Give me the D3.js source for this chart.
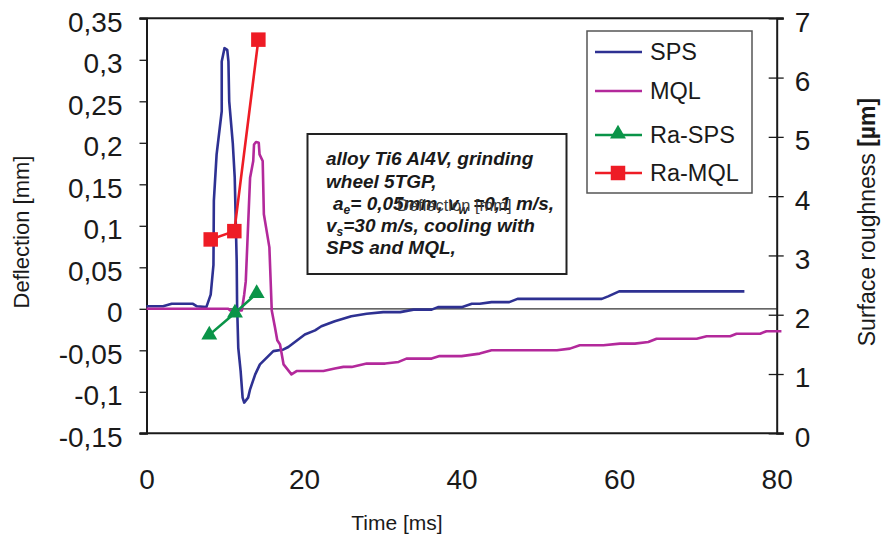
<!DOCTYPE html>
<html><head><meta charset="utf-8">
<script src="https://cdn.jsdelivr.net/npm/d3@7"></script>
<style>
body{margin:0;background:#fff;}
svg{display:block;font-family:"Liberation Sans",Arial,sans-serif;}
</style></head>
<body>
<svg id="c" width="882" height="542"></svg>
<script>
// ---- data ----
const spsTime = [0,2.1,3.2,5.9,6.4,7.6,8.15,8.5,8.55,8.9,9.55,9.55,9.9,10.25,10.4,10.5,10.95,11.2,11.45,11.5,11.65,11.95,12.2,12.4,12.9,13.15,13.8,14.4,16.1,17.4,18.0,20.1,21.4,22.2,23.9,26.0,27.95,30.05,32.2,33.9,36.2,37.0,40.0,41.3,42.3,43.8,46.05,47.1,55,57.8,58.6,60.0,75.9];
const spsDefl = [0.003,0.003,0.006,0.006,0.003,0.002,0.017,0.053,0.13,0.186,0.238,0.298,0.314,0.312,0.298,0.25,0.20,0.158,0.057,0.005,-0.047,-0.075,-0.107,-0.113,-0.107,-0.097,-0.079,-0.067,-0.051,-0.049,-0.046,-0.031,-0.026,-0.021,-0.015,-0.009,-0.006,-0.004,-0.004,-0.001,-0.001,0.002,0.002,0.006,0.006,0.008,0.008,0.012,0.012,0.012,0.015,0.021,0.021];
const mqlTime = [0,10.4,10.6,12.1,12.4,12.6,12.8,13.15,13.55,13.65,13.9,14.25,14.35,14.75,14.9,15.6,15.9,16.3,16.6,16.95,17.4,18.4,19.05,22.45,23.9,25.0,26.05,27.95,30.3,32.0,33.0,36.2,37.2,40.0,42.3,43.8,52.1,53.75,55,58,60.1,62,63.7,64.75,69.85,71.1,74.1,74.9,77.9,78.7,80.6];
const mqlDefl = [0,0,-0.002,-0.002,0.017,0.033,0.078,0.158,0.178,0.198,0.201,0.2,0.186,0.178,0.114,0.074,-0.002,-0.022,-0.038,-0.043,-0.067,-0.079,-0.075,-0.075,-0.072,-0.070,-0.070,-0.066,-0.066,-0.064,-0.060,-0.060,-0.057,-0.057,-0.054,-0.050,-0.050,-0.048,-0.044,-0.044,-0.042,-0.042,-0.040,-0.036,-0.036,-0.033,-0.033,-0.030,-0.030,-0.027,-0.027];
const raSpsTime = [7.97,11.23,13.99];
const raSps = [1.66,2.03,2.36];
const raMqlTime = [8.15,11.15,14.2];
const raMql = [3.27,3.41,6.64];
const leftTicks = [-0.15,-0.1,-0.05,0,0.05,0.1,0.15,0.2,0.25,0.3,0.35];
const leftLabels = ["-0,15","-0,1","-0,05","0","0,05","0,1","0,15","0,2","0,25","0,3","0,35"];
const rightTicks = [0,1,2,3,4,5,6,7];
const xTicks = [0,20,40,60,80];
const seriesNames = ["SPS","MQL","Ra-SPS","Ra-MQL"];
const seriesColors = ["#2e3192","#b3299b","#0a9448","#ee1c25"];
const noteLines = ["alloy Ti6 Al4V, grinding","wheel 5TGP,"];

// ---- layout ----
const svg = d3.select("#c");
const L = 146.5, R = 776.7, T = 18.3, B = 433.3;
const x = d3.scaleLinear().domain([0,80]).range([L,R]);
const yL = d3.scaleLinear().domain([-0.15,0.35]).range([B,T]);
const yR = d3.scaleLinear().domain([0,7]).range([B,T]);
const ink = "#1a1a1a";

// zero line
svg.append("line").attr("x1",L).attr("x2",R).attr("y1",yL(0)).attr("y2",yL(0))
  .attr("stroke","#333").attr("stroke-width",1.2);

// frame top & bottom
svg.append("line").attr("x1",L-7).attr("x2",R+7).attr("y1",T).attr("y2",T).attr("stroke",ink).attr("stroke-width",2);
svg.append("line").attr("x1",L-7).attr("x2",R+7).attr("y1",B).attr("y2",B).attr("stroke",ink).attr("stroke-width",2);

// left axis
const ax = svg.append("g").attr("transform",`translate(${L},0)`)
  .call(d3.axisLeft(yL).tickValues(leftTicks).tickFormat((d,i)=>leftLabels[i]).tickSize(7).tickPadding(17));
ax.select(".domain").attr("stroke",ink).attr("stroke-width",2);
ax.selectAll(".tick line").attr("stroke",ink).attr("stroke-width",1.3);
ax.selectAll("text").attr("font-size",28).attr("fill",ink).attr("dy","0.46em").attr("font-family","Liberation Sans, Arial, sans-serif");

// right axis
const ar = svg.append("g").attr("transform",`translate(${R},0)`)
  .call(d3.axisRight(yR).tickValues(rightTicks).tickFormat(d3.format("d")).tickSize(7).tickPadding(11));
ar.select(".domain").attr("stroke",ink).attr("stroke-width",2);
ar.selectAll(".tick line").attr("stroke",ink).attr("stroke-width",1.3).attr("x1",-8);
ar.selectAll("text").attr("font-size",28).attr("fill",ink).attr("dy","0.46em").attr("font-family","Liberation Sans, Arial, sans-serif");

// bottom axis labels
const axb = svg.append("g").attr("transform",`translate(0,${B})`)
  .call(d3.axisBottom(x).tickValues(xTicks).tickSize(0).tickPadding(36));
axb.select(".domain").remove();
axb.selectAll("text").attr("font-size",28).attr("fill",ink).attr("font-family","Liberation Sans, Arial, sans-serif");

// axis titles
svg.append("text").attr("transform","translate(29,232) rotate(-90)").attr("text-anchor","middle")
  .attr("font-size",22).attr("fill",ink).text("Deflection [mm]");
const rt = svg.append("text").attr("transform","translate(875,222) rotate(-90)").attr("text-anchor","middle")
  .attr("font-size",23).attr("fill",ink);
rt.append("tspan").text("Surface roughness ");
rt.append("tspan").attr("font-weight","bold").text("[µm]");
svg.append("text").attr("x",397).attr("y",530).attr("text-anchor","middle")
  .attr("font-size",21).attr("fill",ink).text("Time [ms]");

// series lines
const line = (ys)=>d3.line().x(d=>x(d[0])).y(d=>ys(d[1]));
svg.append("path").datum(d3.zip(spsTime,spsDefl)).attr("d",line(yL)).attr("fill","none")
  .attr("stroke",seriesColors[0]).attr("stroke-width",2.6).attr("stroke-linejoin","round");
svg.append("path").datum(d3.zip(mqlTime,mqlDefl)).attr("d",line(yL)).attr("fill","none")
  .attr("stroke",seriesColors[1]).attr("stroke-width",2.6).attr("stroke-linejoin","round");

const tri = d3.symbol().type(d3.symbolTriangle).size(110);
const sq = d3.symbol().type(d3.symbolSquare).size(210);
const raS = d3.zip(raSpsTime,raSps), raM = d3.zip(raMqlTime,raMql);
svg.append("path").datum(raS).attr("d",line(yR)).attr("fill","none").attr("stroke",seriesColors[2]).attr("stroke-width",2.6);
svg.selectAll(".ts").data(raS).join("path").attr("d",tri)
  .attr("transform",d=>`translate(${x(d[0])},${yR(d[1])})`).attr("fill",seriesColors[2]);
svg.append("path").datum(raM).attr("d",line(yR)).attr("fill","none").attr("stroke",seriesColors[3]).attr("stroke-width",2.6);
svg.selectAll(".sq").data(raM).join("path").attr("d",sq)
  .attr("transform",d=>`translate(${x(d[0])},${yR(d[1])})`).attr("fill",seriesColors[3]);

// annotation box
svg.append("rect").attr("x",307.5).attr("y",134).attr("width",259).attr("height",140)
  .attr("fill","#fff").attr("stroke","#222").attr("stroke-width",2);
const nt = svg.append("g").attr("font-size",19).attr("font-weight","bold").attr("font-style","italic").attr("fill",ink);
nt.append("text").attr("x",326).attr("y",165).text(noteLines[0]);
nt.append("text").attr("x",326).attr("y",188).text(noteLines[1]);
const l3 = nt.append("text").attr("x",333).attr("y",210);
l3.append("tspan").text("a");
l3.append("tspan").attr("font-size",12).attr("dy",4).text("e");
l3.append("tspan").attr("dy",-4).text("= 0,05mm, v");
l3.append("tspan").attr("font-size",12).attr("dy",4).text("w");
l3.append("tspan").attr("dy",-4).text(" =0,1 m/s,");
const l4 = nt.append("text").attr("x",326).attr("y",232);
l4.append("tspan").text("v");
l4.append("tspan").attr("font-size",12).attr("dy",4).text("s");
l4.append("tspan").attr("dy",-4).text("=30 m/s, cooling with");
nt.append("text").attr("x",326).attr("y",254).text("SPS and MQL,");
svg.append("text").attr("x",397).attr("y",211).attr("font-size",16.5).attr("fill","#3a3a3a").text("Deflection [mm]");

// legend
svg.append("rect").attr("x",587).attr("y",31).attr("width",165).attr("height",162)
  .attr("fill","#fff").attr("stroke","#555").attr("stroke-width",1.5);
const rowsY = [52,91,135,173];
seriesNames.forEach((n,i)=>{
  const g = svg.append("g");
  g.append("line").attr("x1",595).attr("x2",642).attr("y1",rowsY[i]).attr("y2",rowsY[i])
    .attr("stroke",seriesColors[i]).attr("stroke-width",2.6);
  if(i===2) g.append("path").attr("d",tri).attr("transform",`translate(618,${rowsY[i]-1})`).attr("fill",seriesColors[i]);
  if(i===3) g.append("path").attr("d",sq).attr("transform",`translate(618,${rowsY[i]})`).attr("fill",seriesColors[i]);
  g.append("text").attr("x",650).attr("y",rowsY[i]+8).attr("font-size",23.5).attr("fill",ink).text(n);
});
</script>
</body></html>
